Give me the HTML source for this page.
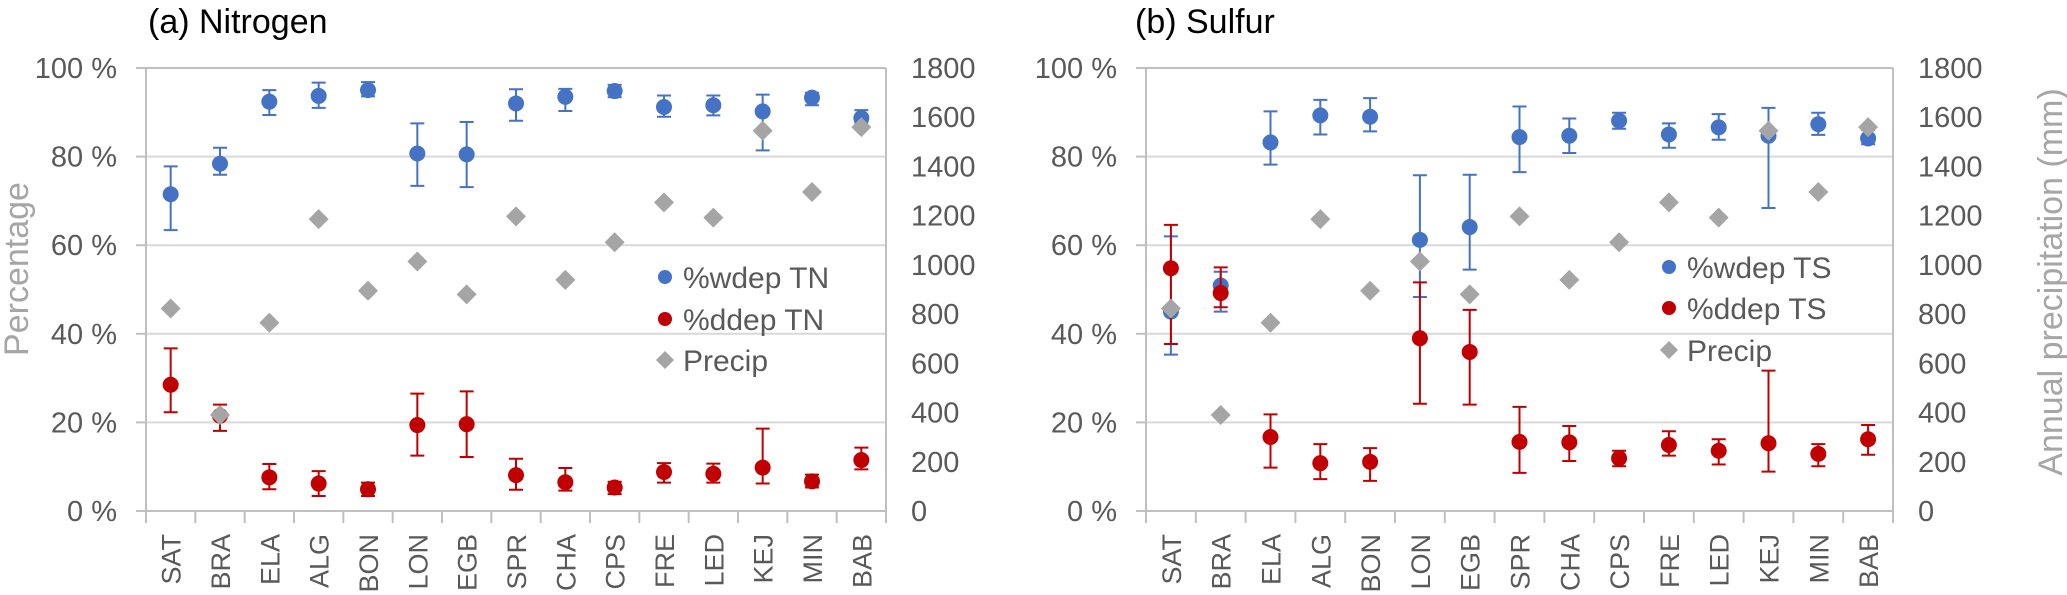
<!DOCTYPE html>
<html><head><meta charset="utf-8"><style>
html,body{margin:0;padding:0;background:#fff;}
svg{display:block;font-family:"Liberation Sans",sans-serif;}
</style></head><body>
<svg id="chart" width="2067" height="595" viewBox="0 0 2067 595" xmlns="http://www.w3.org/2000/svg"></svg>
<script>
const categories = ["SAT","BRA","ELA","ALG","BON","LON","EGB","SPR","CHA","CPS","FRE","LED","KEJ","MIN","BAB"];
const precip = [823,390,765,1186,895,1014,880,1197,939,1092,1254,1192,1545,1296,1560];
const nWdep = [71.5,78.4,92.4,93.7,95.0,80.7,80.5,92.0,93.5,94.8,91.2,91.6,90.2,93.3,88.7];
const nWdepHi = [77.8,82.0,95.0,96.7,96.8,87.5,87.8,95.2,95.3,96.2,93.8,93.8,94.0,94.4,90.5];
const nWdepLo = [63.4,75.9,89.4,91.0,93.6,73.4,73.1,88.1,90.3,93.4,89.0,89.3,81.4,91.6,87.7];
const nDdep = [28.5,21.5,7.6,6.2,4.9,19.4,19.6,8.1,6.5,5.3,8.8,8.4,9.8,6.7,11.5];
const nDdepHi = [36.7,24.0,10.6,9.0,6.4,26.5,27.0,11.8,9.7,6.6,10.8,10.7,18.6,8.2,14.3];
const nDdepLo = [22.3,18.1,4.9,3.4,3.4,12.5,12.2,4.8,4.6,3.8,6.4,6.4,6.2,5.3,9.4];
const sWdep = [45.0,50.9,83.2,89.3,89.0,61.2,64.1,84.4,84.7,88.1,85.0,86.6,84.7,87.3,84.1];
const sWdepHi = [62.0,54.0,90.2,92.8,93.2,75.8,75.9,91.3,88.6,89.9,87.5,89.6,91.0,89.9,86.0];
const sWdepLo = [35.3,45.0,78.2,85.0,85.7,48.3,54.5,76.5,80.8,86.3,82.0,83.8,68.4,84.9,82.8];
const sDdep = [54.8,49.2,16.7,10.8,11.1,39.0,35.9,15.6,15.5,11.9,14.9,13.6,15.3,12.9,16.2];
const sDdepHi = [64.6,55.0,21.8,15.1,14.2,51.6,45.4,23.5,19.2,13.6,18.0,16.2,31.7,15.1,19.4];
const sDdepLo = [37.7,46.0,9.8,7.2,6.8,24.2,24.0,8.6,11.3,10.1,12.5,10.5,8.9,10.1,12.7];
const pctTicks = ["0 %","20 %","40 %","60 %","80 %","100 %"];
const mmTicks = ["0","200","400","600","800","1000","1200","1400","1600","1800"];

const NS="http://www.w3.org/2000/svg";
const svg=document.getElementById('chart');
function mk(tag,attrs,parent,text){const e=document.createElementNS(NS,tag);for(const k in attrs)e.setAttribute(k,attrs[k]);if(text!==undefined)e.textContent=text;(parent||svg).appendChild(e);return e;}

function panel(cfg){
  const g=mk('g',{});
  
  
  const L=cfg.left,R=cfg.right,T=68,B=511;
  const n=categories.length, step=(R-L)/n;
  const xc=i=>L+step*(i+0.5);
  const yp=v=>B-(v/100)*(B-T);
  const ym=v=>B-(v/1800)*(B-T);
  const t=mk('text',{x:cfg.titleX,y:33,'font-size':34,fill:'#000'},g,cfg.title);
  
  
  for(let i=1;i<pctTicks.length;i++){
    const gl=mk('line',{x1:L,x2:R,y1:yp(i*20),y2:yp(i*20),stroke:i===5?'#bfbfbf':'#d9d9d9','stroke-width':2},g);
    
    
  }
  const ax=mk('line',{x1:L,x2:L,y1:T,y2:B+12,stroke:'#bfbfbf','stroke-width':2},g);
  
  
  const ax2=mk('line',{x1:R,x2:R,y1:T,y2:B+12,stroke:'#bfbfbf','stroke-width':2},g);
  
  
  const ax3=mk('line',{x1:L-10,x2:R,y1:B,y2:B,stroke:'#bfbfbf','stroke-width':2},g);
  
  
  for(let i=0;i<pctTicks.length;i++){
    mk('line',{x1:L-10,x2:L,y1:yp(i*20),y2:yp(i*20),stroke:'#bfbfbf','stroke-width':2},g);
    const tl=mk('text',{x:L-29,y:yp(i*20)+10,'font-size':29,fill:'#595959','text-anchor':'end'},g,pctTicks[i]);
    
    
  }
  for(let i=0;i<mmTicks.length;i++){
    const tl=mk('text',{x:R+25,y:ym(i*200)+10,'font-size':29,fill:'#595959'},g,mmTicks[i]);
    
    
  }
  for(let i=1;i<n;i++) mk('line',{x1:L+step*i,x2:L+step*i,y1:B,y2:B+12,stroke:'#bfbfbf','stroke-width':2},g);
  categories.forEach((c,i)=>{
    const tl=mk('text',{x:0,y:0,'font-size':27,fill:'#595959','text-anchor':'end',transform:`translate(${xc(i)+10},534) rotate(-90)`},g,c);
    
    
  });
  function circles(vals,hi,lo,color,nm){
    vals.forEach((v,i)=>{
      const x=xc(i);
      const eb=mk('path',{d:`M${x},${yp(hi[i])}V${yp(lo[i])}M${x-7},${yp(hi[i])}H${x+7}M${x-7},${yp(lo[i])}H${x+7}`,stroke:color,'stroke-width':2,fill:'none'},g);
      
      
      const c=mk('circle',{cx:x,cy:yp(v),r:8,fill:color},g);
      
      
    });
  }
  circles(cfg.w,cfg.wHi,cfg.wLo,'#4472c4','wdep');
  circles(cfg.d,cfg.dHi,cfg.dLo,'#c00000','ddep');
  precip.forEach((v,i)=>{
    const x=xc(i),y=ym(v),s=10;
    const p=mk('path',{d:`M${x},${y-s}L${x+s},${y}L${x},${y+s}L${x-s},${y}Z`,fill:'#a5a5a5'},g);
    
    
  });
  const lg=mk('g',{},g);
  
  
  const items=[[cfg.lw,'#4472c4','c'],[cfg.ld,'#c00000','c'],['Precip','#a5a5a5','d']];
  items.forEach((it,k)=>{
    const y=cfg.legY[k];
    const e=mk('g',{},lg);
    
    
    if(it[2]==='c') mk('circle',{cx:cfg.legX,cy:y,r:7,fill:it[1]},e);
    else mk('path',{d:`M${cfg.legX},${y-9}L${cfg.legX+9},${y}L${cfg.legX},${y+9}L${cfg.legX-9},${y}Z`,fill:it[1]},e);
    mk('text',{x:cfg.legX+18,y:y+11,'font-size':30,fill:'#595959'},e,it[0]);
  });
}
panel({name:'nitrogen-panel',title:'(a) Nitrogen',titleX:148,left:146,right:886,
  w:nWdep,wHi:nWdepHi,wLo:nWdepLo,d:nDdep,dHi:nDdepHi,dLo:nDdepLo,
  lw:'%wdep TN',ld:'%ddep TN',legX:665,legY:[277,319,360]});
panel({name:'sulfur-panel',title:'(b) Sulfur',titleX:1135,left:1146,right:1893,
  w:sWdep,wHi:sWdepHi,wLo:sWdepLo,d:sDdep,dHi:sDdepHi,dLo:sDdepLo,
  lw:'%wdep TS',ld:'%ddep TS',legX:1669,legY:[267,308,350]});
const yt=mk('text',{x:0,y:0,'font-size':34,fill:'#a6a6a6','text-anchor':'middle',transform:'translate(28,269) rotate(-90)'},svg,'Percentage');


const yt2=mk('text',{x:0,y:0,'font-size':34,fill:'#a6a6a6','text-anchor':'middle',transform:'translate(2062,282) rotate(-90)'},svg,'Annual precipitation (mm)');


</script>
</body></html>
